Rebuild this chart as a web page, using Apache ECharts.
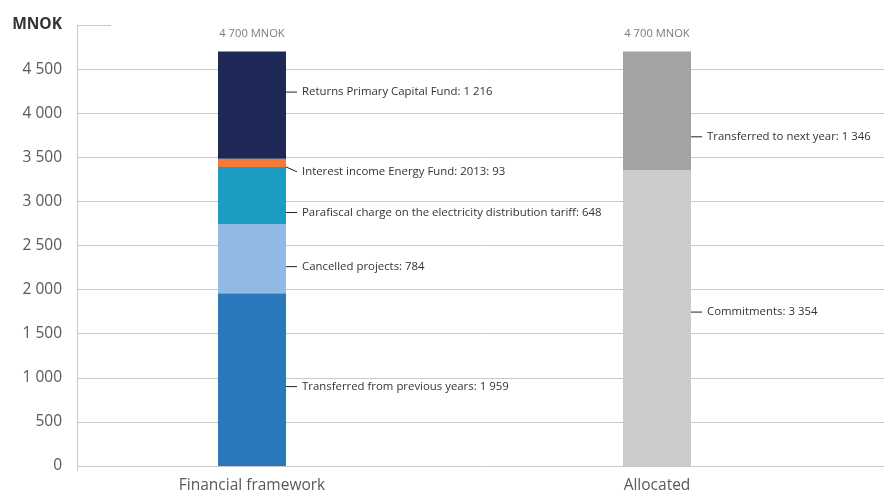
<!DOCTYPE html>
<html>
<head>
<meta charset="utf-8">
<script src="https://cdn.jsdelivr.net/npm/echarts@6/dist/echarts.min.js"></script>
<style>
  html, body { margin: 0; padding: 0; background: #ffffff; }
  #chart { width: 888px; height: 496px; }
</style>
</head>
<body>
<div id="chart"></div>
<script>
// ---- data ----
const categories = ['Financial framework', 'Allocated'];
const unit = 'MNOK';

const frameworkNames = [
  'Transferred from previous years',
  'Cancelled projects',
  'Parafiscal charge on the electricity distribution tariff',
  'Interest income Energy Fund: 2013',
  'Returns Primary Capital Fund'
];
const frameworkValues = [1959, 784, 648, 93, 1216];

const allocatedNames = ['Commitments', 'Transferred to next year'];
const allocatedValues = [3354, 1346];

const axisMax = 5000;
const axisStep = 500;

// ---- styles ----
const FONT = '"Open Sans", Lato, sans-serif';
const frameworkColors = ['#2a79bd', '#90bae3', '#1c9cc3', '#f47a36', '#1e2856'];
const allocatedColors = ['#cbcbcb', '#a3a3a4'];
// vertical nudges (px) of the side labels
const frameworkLabelDy = [7, 8, 17, 9, -13];
const allocatedLabelDy = [-6, 26];
const gridColor = '#c8c8c8';

const fmt = v => String(v).replace(/\B(?=(\d{3})+(?!\d))/g, ' ');
const sum = arr => arr.reduce((a, b) => a + b, 0);

function segment(name, value, slot, color, dy) {
  const data = categories.map((c, i) => (i === slot ? value : '-'));
  return {
    type: 'bar',
    name: name,
    stack: 'total',
    xAxisIndex: 0,
    yAxisIndex: 0,
    barWidth: 68,
    data: data,
    itemStyle: { color: color },
    label: {
      show: true,
      position: 'right',
      distance: 11,
      padding: [0, 0, 0, 5],
      backgroundColor: 'rgba(255,255,255,0)',
      color: '#333333',
      fontSize: 11.4,
      fontFamily: FONT,
      formatter: p => name + ': ' + fmt(p.value)
    },
    labelLayout: { dy: dy },
    labelLine: { show: true, lineStyle: { color: '#222222', width: 1 } },
    emphasis: { disabled: true },
    silent: true
  };
}

const series = [];
frameworkNames.forEach((n, i) =>
  series.push(segment(n, frameworkValues[i], 0, frameworkColors[i], frameworkLabelDy[i])));
allocatedNames.forEach((n, i) =>
  series.push(segment(n, allocatedValues[i], 1, allocatedColors[i], allocatedLabelDy[i])));

// totals printed above each column
series.push({
  type: 'scatter',
  xAxisIndex: 0,
  yAxisIndex: 0,
  symbolSize: 0,
  data: [sum(frameworkValues), sum(allocatedValues)],
  label: {
    show: true,
    position: 'top',
    distance: 12,
    color: '#595959',
    fontSize: 11.2,
    fontFamily: FONT,
    formatter: p => fmt(p.value) + ' ' + unit
  },
  silent: true
});

const chart = echarts.init(document.getElementById('chart'), null, { renderer: 'canvas' });
chart.setOption({
  animation: false,
  backgroundColor: '#ffffff',
  textStyle: { fontFamily: FONT },
  grid: [
    // columns
    { left: 49.5, right: 28.5, top: 25, bottom: 30, containLabel: false, outerBoundsMode: 'none' },
    // value scale with gridlines
    { left: 77, right: 4, top: 25, bottom: 30, containLabel: false, outerBoundsMode: 'none' }
  ],
  xAxis: [
    {
      type: 'category',
      gridIndex: 0,
      data: categories,
      axisLine: { show: false },
      axisTick: { show: false },
      splitLine: { show: false },
      axisLabel: { color: '#595959', fontSize: 15.5, fontFamily: FONT, margin: 12 }
    },
    {
      type: 'value',
      gridIndex: 1,
      min: 0,
      max: 1,
      interval: 1,
      axisLine: { show: false },
      axisLabel: { show: false },
      splitLine: { show: false },
      axisTick: { show: true, customValues: [0], length: 5, lineStyle: { color: gridColor } }
    }
  ],
  yAxis: [
    {
      type: 'value',
      gridIndex: 0,
      min: 0,
      max: axisMax,
      interval: axisStep,
      show: false,
      splitLine: { show: false }
    },
    {
      type: 'value',
      gridIndex: 1,
      min: 0,
      max: axisMax,
      interval: axisStep,
      axisLine: { show: true, lineStyle: { color: gridColor, width: 1 } },
      // inner ticks sit on the gridlines; only the top one stands alone
      axisTick: { show: true, inside: true, length: 34, lineStyle: { color: gridColor, width: 1 } },
      splitLine: { show: true, showMaxLine: false, lineStyle: { color: gridColor, width: 1 } },
      axisLabel: {
        color: '#595959',
        fontSize: 15.5,
        fontFamily: FONT,
        margin: 15,
        formatter: v => (v === axisMax ? '{u|' + unit + '}' : fmt(v)),
        rich: { u: { fontWeight: 'bold', color: '#333333', fontSize: 15.5, fontFamily: FONT } }
      }
    }
  ],
  series: series
});
</script>
</body>
</html>
